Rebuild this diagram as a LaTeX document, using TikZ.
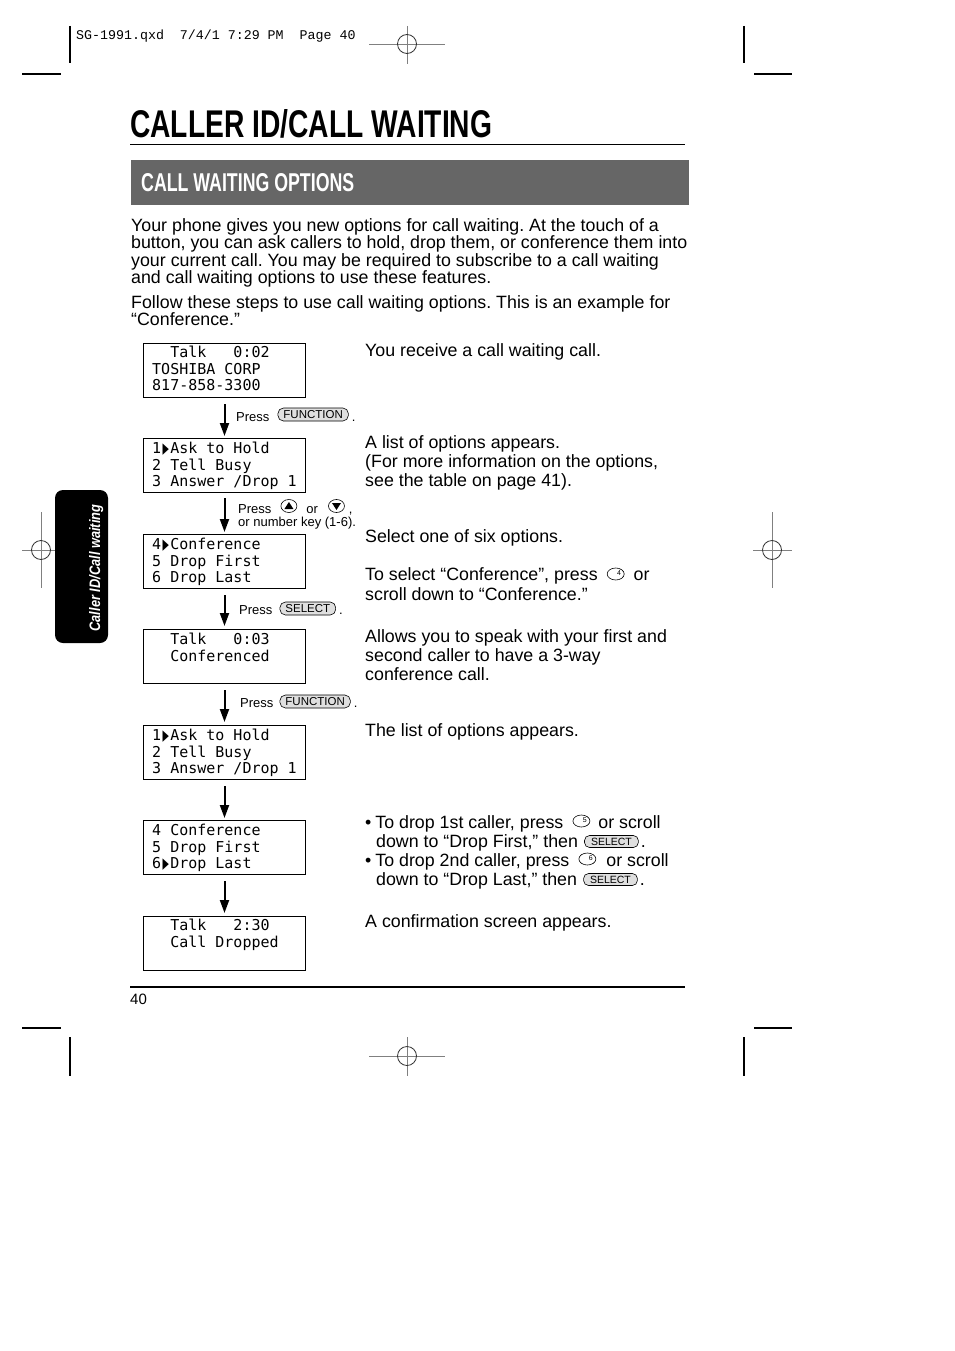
\documentclass[tikz,border=0pt]{standalone}
\usepackage{fontspec}
\usepackage{graphicx}
\setmainfont{Liberation Sans}
\newfontfamily\lcdfont{DejaVu Sans Mono}
\newfontfamily\courfont{Liberation Mono}
\newfontfamily\symfont{DejaVu Sans}
\usetikzlibrary{arrows.meta,shapes.geometric,calc}
\definecolor{bannergray}{HTML}{666666}
\newcommand{\tri}{\makebox[0.602em][c]{\symfont\scalebox{0.55}[1]{▶}}}
\frenchspacing
\begin{document}
\begin{tikzpicture}[x=1pt,y=-1pt,
  body/.style={font=\fontsize{17.8}{17.8}\selectfont, inner sep=0pt, anchor=base west},
  small/.style={font=\fontsize{13}{13}\selectfont, inner sep=0pt, anchor=base west},
  lcd/.style={draw, line width=1pt, minimum width=162pt, minimum height=54pt, anchor=north west, inner sep=0pt},
  lcdtxt/.style={font=\lcdfont\fontsize{15}{15}\selectfont, inner sep=0pt, anchor=base west},
  flow/.style={line width=2pt, -{Triangle[length=13pt,width=9pt]}},
  keybox/.style={draw, line width=0.6pt, rounded corners=5.5pt, fill=gray!25, inner xsep=5.5pt, inner ysep=0pt, minimum height=13pt, anchor=west, font=\fontsize{11.5}{11.5}\selectfont},
  keysm/.style={draw, line width=0.6pt, rounded corners=5pt, fill=gray!25, inner xsep=6.5pt, inner ysep=0pt, minimum height=12pt, anchor=west, font=\fontsize{10.5}{10.5}\selectfont},
  numkey/.style={draw, ellipse, line width=0.6pt, minimum width=17pt, minimum height=12pt, inner sep=0pt, anchor=west},
  keynum/.style={font=\fontsize{7}{7}\selectfont, inner sep=0pt},
  arrkey/.style={draw, ellipse, line width=0.6pt, minimum width=16pt, minimum height=13pt, inner sep=0pt, anchor=west},
  crop/.style={line width=1.2pt},
  regline/.style={line width=0.7pt, draw=gray},
  regcirc/.style={line width=0.8pt, draw=black!80}
]
\useasboundingbox (0,0) rectangle (954,1351);
\fill[white] (0,0) rectangle (954,1351);

% crop marks
\draw[crop] (22,74) -- (61,74);
\draw[crop] (70,26) -- (70,63);
\draw[crop] (744,26) -- (744,63);
\draw[crop] (754,74) -- (792,74);
\draw[crop] (22,1028) -- (61,1028);
\draw[crop] (70,1037) -- (70,1076);
\draw[crop] (754,1028) -- (792,1028);
\draw[crop] (744,1037) -- (744,1076);

% registration marks
\foreach \cx/\cy/\hl/\hr/\vt/\vb in {407/44/369/445/26/64, 407/1056/369/445/1037/1076, 41/550/22/60/512/588, 772/550/753/792/512/588}{
  \draw[regline] (\hl,\cy) -- (\hr,\cy);
  \draw[regline] (\cx,\vt) -- (\cx,\vb);
  \draw[regcirc] (\cx,\cy) circle[radius=9.5pt];
}

% header slug
\node[font=\courfont\fontsize{13.3}{13.3}\selectfont, inner sep=0pt, anchor=base west] (hdr) at (76,40) {SG-1991.qxd~~7/4/1~7:29~PM~~Page~40};

% title
\node[inner sep=0pt, anchor=base west] (title) at (130,138) {\resizebox{362pt}{28pt}{\bfseries CALLER ID/CALL WAITING}};
\draw[line width=1pt] (130,145) -- (685,145);

% banner
\fill[bannergray] (131,160) rectangle (689,205);
\node[inner sep=0pt, anchor=base west, text=white] (banner) at (141,192) {\resizebox{213pt}{18pt}{\bfseries CALL WAITING OPTIONS}};

% intro paragraphs
\node[body] (p1a) at (131,231) {Your phone gives you new options for call waiting. At the touch of a};
\node[body] (p1b) at (131,248.6) {button, you can ask callers to hold, drop them, or conference them into};
\node[body] (p1c) at (131,266.2) {your current call. You may be required to subscribe to a call waiting};
\node[body] (p1d) at (131,283.8) {and call waiting options to use these features.};
\node[body] (p2a) at (131,308) {Follow these steps to use call waiting options. This is an example for};
\node[body] (p2b) at (131,325.6) {“Conference.”};

% LCD boxes
\node[lcd] (b1) at (143,343) {};
\node[lcdtxt] (b1a) at (152,357.5) {~~Talk~~~0:02};
\node[lcdtxt] (b1b) at (152,374) {TOSHIBA~CORP};
\node[lcdtxt] (b1c) at (152,390.5) {817-858-3300};

\node[lcd] (b2) at (143,438) {};
\node[lcdtxt] (b2a) at (152,453.5) {1\tri Ask~to~Hold};
\node[lcdtxt] (b2b) at (152,470) {2~Tell~Busy};
\node[lcdtxt] (b2c) at (152,486.5) {3~Answer~/Drop~1};

\node[lcd] (b3) at (143,534) {};
\node[lcdtxt] (b3a) at (152,549.5) {4\tri Conference};
\node[lcdtxt] (b3b) at (152,566) {5~Drop~First};
\node[lcdtxt] (b3c) at (152,582.5) {6~Drop~Last};

\node[lcd] (b4) at (143,629) {};
\node[lcdtxt] (b4a) at (152,644.5) {~~Talk~~~0:03};
\node[lcdtxt] (b4b) at (152,661) {~~Conferenced};

\node[lcd] (b5) at (143,725) {};
\node[lcdtxt] (b5a) at (152,740.5) {1\tri Ask~to~Hold};
\node[lcdtxt] (b5b) at (152,757) {2~Tell~Busy};
\node[lcdtxt] (b5c) at (152,773.5) {3~Answer~/Drop~1};

\node[lcd] (b6) at (143,820) {};
\node[lcdtxt] (b6a) at (152,835.5) {4~Conference};
\node[lcdtxt] (b6b) at (152,852) {5~Drop~First};
\node[lcdtxt] (b6c) at (152,868.5) {6\tri Drop~Last};

\node[lcd] (b7) at (143,916) {};
\node[lcdtxt] (b7a) at (152,930.5) {~~Talk~~~2:30};
\node[lcdtxt] (b7b) at (152,947) {~~Call~Dropped};

% flow arrows
\draw[flow] ([yshift=-6pt]b1.south) -- ([yshift=2pt]b2.north);
\draw[flow] ([yshift=-5pt]b2.south) -- ([yshift=2pt]b3.north);
\draw[flow] ([yshift=-6pt]b3.south) -- ([yshift=3pt]b4.north);
\draw[flow] ([yshift=-6pt]b4.south) -- ([yshift=3pt]b5.north);
\draw[flow] ([yshift=-6pt]b5.south) -- ([yshift=2pt]b6.north);
\draw[flow] ([yshift=-6pt]b6.south) -- ([yshift=3pt]b7.north);

% step labels
\node[small] (pr1) at (236,421) {Press};
\node[keybox] (fn1) at ($(pr1.base east)+(8,-6.5)$) {FUNCTION};
\node[small] (pr1d) at ($(fn1.east |- pr1.base)+(3,0)$) {.};

\node[small] (pr2) at (238,513) {Press};
\node[arrkey] (up) at ($(pr2.base east)+(9,-7)$) {};
\fill ([xshift=-4.5pt,yshift=-3pt]up.center) -- ([xshift=4.5pt,yshift=-3pt]up.center) -- ([yshift=4pt]up.center) -- cycle;
\node[small] (pr2o) at ($(up.east |- pr2.base)+(9,0)$) {or};
\node[arrkey] (down) at ($(pr2o.base east)+(10,-7)$) {};
\fill ([xshift=-4.5pt,yshift=3pt]down.center) -- ([xshift=4.5pt,yshift=3pt]down.center) -- ([yshift=-4pt]down.center) -- cycle;
\node[small] (pr2c) at ($(down.east |- pr2.base)+(4,0)$) {,};
\node[small] (pr2b) at (238,526) {or number key (1-6).};

\node[small] (pr3) at (239,614) {Press};
\node[keybox] (sel0) at ($(pr3.base east)+(7,-5.5)$) {SELECT};
\node[small] (pr3d) at ($(sel0.east |- pr3.base)+(3,0)$) {.};

\node[small] (pr4) at (240,707) {Press};
\node[keybox] (fn2) at ($(pr4.base east)+(6,-5.5)$) {FUNCTION};
\node[small] (pr4d) at ($(fn2.east |- pr4.base)+(3,0)$) {.};

% right column
\node[body] (r1) at (365,356) {You receive a call waiting call.};
\node[body] (r2a) at (365,448) {A list of options appears.};
\node[body] (r2b) at (365,467) {(For more information on the options,};
\node[body] (r2c) at (365,486) {see the table on page 41).};
\node[body] (r3a) at (365,542) {Select one of six options.};
\node[body] (r3b) at (365,580) {To select “Conference”, press};
\node[numkey] (k4) at ($(r3b.base east)+(9,-6)$) {};
\node[keynum] (k4n) at ([xshift=3.5pt,yshift=1pt]k4.center) {4};
\node[body] (r3c) at ($(k4.east |- r3b.base)+(9,0)$) {or};
\node[body] (r3d) at (365,600) {scroll down to “Conference.”};
\node[body] (r4a) at (365,642) {Allows you to speak with your first and};
\node[body] (r4b) at (365,661) {second caller to have a 3-way};
\node[body] (r4c) at (365,680) {conference call.};
\node[body] (r5) at (365,736) {The list of options appears.};

\node[body] (r6a) at (365,828) {•\hspace{4pt}To drop 1st caller, press};
\node[numkey] (k5) at ($(r6a.base east)+(9,-7)$) {};
\node[keynum] (k5n) at ([xshift=3.5pt,yshift=1pt]k5.center) {5};
\node[body] (r6b) at ($(k5.east |- r6a.base)+(8,0)$) {or scroll};
\node[body] (r6c) at (376,847) {down to “Drop First,” then};
\node[keysm] (sel1) at ($(r6c.base east)+(6,-5.5)$) {SELECT};
\node[body] (r6d) at ($(sel1.east |- r6c.base)+(2,0)$) {.};
\node[body] (r6e) at (365,866) {•\hspace{4pt}To drop 2nd caller, press};
\node[numkey] (k6) at ($(r6e.base east)+(9,-7)$) {};
\node[keynum] (k6n) at ([xshift=3.5pt,yshift=1pt]k6.center) {6};
\node[body] (r6f) at ($(k6.east |- r6e.base)+(10,0)$) {or scroll};
\node[body] (r6g) at (376,885) {down to “Drop Last,” then};
\node[keysm] (sel2) at ($(r6g.base east)+(6,-5.5)$) {SELECT};
\node[body] (r6h) at ($(sel2.east |- r6g.base)+(2,0)$) {.};
\node[body] (r7) at (365,927) {A confirmation screen appears.};

% footer
\draw[line width=2pt] (130,987) -- (685,987);
\node[inner sep=0pt, anchor=base west, font=\fontsize{15}{15}\selectfont] (pgno) at (130,1004) {40};

% side tab
\fill[black, rounded corners=8pt] (55,490) rectangle (108,643);
\node[inner sep=0pt, anchor=base, rotate=90, text=white] (tab) at (100,568) {\resizebox{127pt}{11pt}{\bfseries\itshape Caller ID/Call waiting}};
\end{tikzpicture}
\end{document}
